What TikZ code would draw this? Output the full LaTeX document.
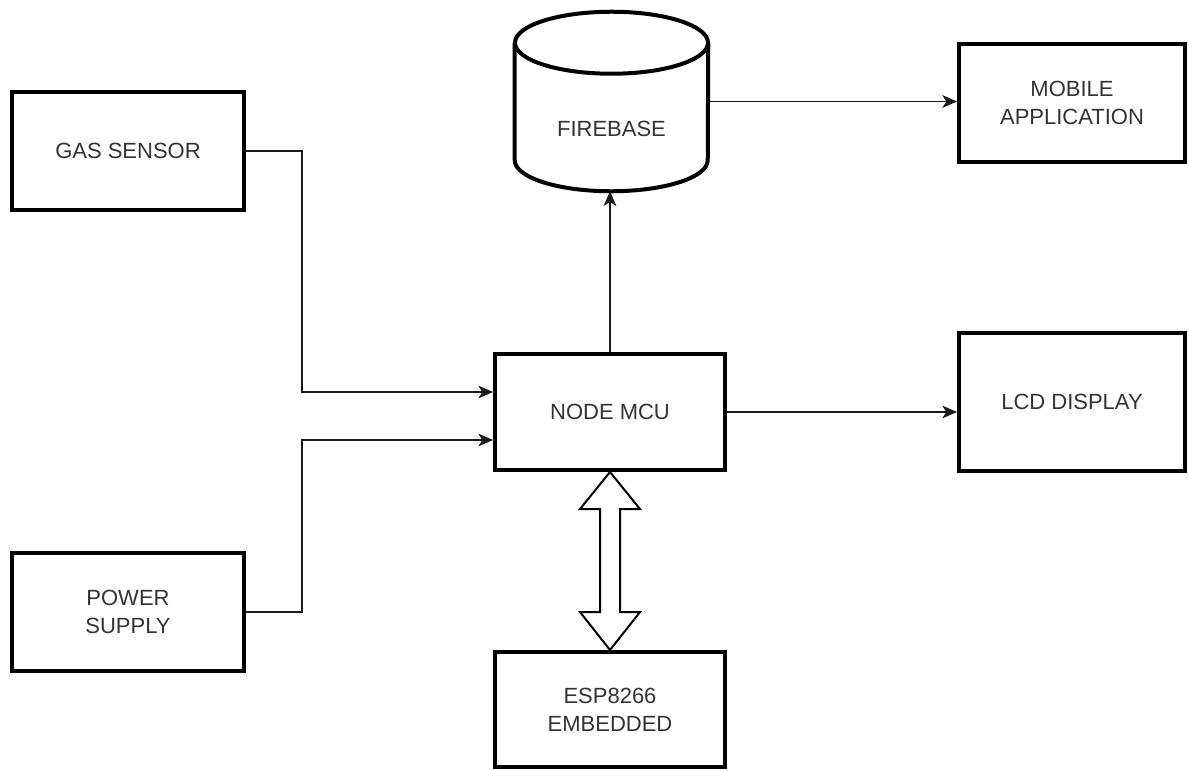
\documentclass[tikz,border=0pt]{standalone}
\usepackage{fontspec}
\setmainfont{Liberation Sans}
\usetikzlibrary{arrows.meta,calc}

\definecolor{labelgray}{HTML}{333333}
\definecolor{linegray}{HTML}{1A1A1A}

\tikzset{
	basic/.style  = {draw=black, line width=3pt, rectangle, inner sep=0pt,
		font=\fontsize{16.5}{21}\selectfont, text=labelgray, align=center},
	side/.style   = {basic, minimum width=174pt, minimum height=88.5pt},
	core/.style   = {basic, minimum width=172.5pt, minimum height=87pt},
	outbox/.style = {basic, minimum width=169.5pt, minimum height=88.5pt},
	db/.style     = {draw=black, line width=3pt},
	link/.style   = {draw=linegray, line width=1.2pt,
		-{Stealth[length=11pt, width=9.5pt, inset=3pt]}},
	fat/.style    = {draw=black, line width=1.5pt, fill=white, line join=miter}
}

\begin{document}
\begin{tikzpicture}[x=0.75pt, y=-0.75pt]
\useasboundingbox (0,0) rectangle (1189,771);

% inputs on the left
\node[side] (gas) at (128,151) {GAS SENSOR};
\node[side] (power) at (128,612) {POWER\\SUPPLY};

% controller and the module below it
\node[core] (mcu) at (610,412) {NODE MCU};
\node[core, minimum height=86.25pt] (esp) at (610,709.5) {ESP8266\\EMBEDDED};

% cloud store
\node[minimum width=144.75pt, minimum height=134.25pt, inner sep=0pt] (firebase) at (611.5,101.5) {};
\draw[db] ($(firebase.north west)+(0,31)$) -- ($(firebase.south west)+(0,-31)$)
	arc[start angle=180, end angle=360, x radius=72.375pt, y radius=23.25pt]
	-- ($(firebase.north east)+(0,31)$);
\draw[db] ($(firebase.north)+(0,31)$) ellipse [x radius=72.375pt, y radius=23.25pt];
\node[font=\fontsize{16.5}{21}\selectfont, text=labelgray] (fblabel) at ($(firebase.center)+(0,27)$) {FIREBASE};

% outputs on the right
\node[outbox] (mobile) at (1072,103) {MOBILE\\APPLICATION};
\node[outbox, minimum height=103.5pt] (lcd) at (1072,402) {LCD DISPLAY};

% connectors
\draw[link] (gas.east) -- ++(56,0) |- ($(mcu.west)+(0,-20)$);
\draw[link] (power.east) -- ++(56,0) |- ($(mcu.west)+(0,28)$);
\draw[link] (mcu.north) -- (mcu.north |- firebase.south);
\draw[link] (firebase.east) -- (firebase.east -| mobile.west);
\draw[link] (mcu.east) -- (mcu.east -| lcd.west);

% two-way arrow between NODE MCU and ESP8266
\draw[fat] (mcu.south) -- ++(30,37) -- ++(-20,0) -- ($(esp.north)+(10,-38)$)
	-- ++(20,0) -- (esp.north) -- ++(-30,-38) -- ++(20,0)
	-- ($(mcu.south)+(-10,37)$) -- ++(-20,0) -- cycle;

\end{tikzpicture}
\end{document}
